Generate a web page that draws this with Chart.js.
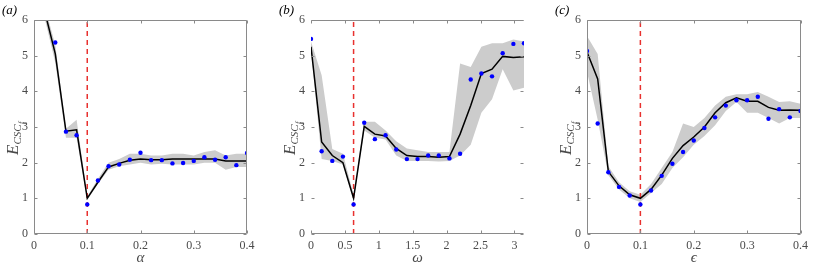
<!DOCTYPE html>
<html><head><meta charset="utf-8">
<script src="https://cdn.jsdelivr.net/npm/chart.js@4/dist/chart.umd.min.js"></script>
<style>
html,body{margin:0;padding:0;background:#fff;}
#wrap{position:relative;width:830px;height:277px;overflow:hidden;}
canvas{position:absolute;top:0;}
</style></head><body>
<div id="wrap">
<canvas id="ca" width="260" height="277" style="left:0px;width:260px;height:277px"></canvas>
<canvas id="cb" width="260" height="277" style="left:277px;width:260px;height:277px"></canvas>
<canvas id="cc" width="260" height="277" style="left:553px;width:260px;height:277px"></canvas>
</div>
<script>
// ---------- data ----------
const alphaX = [0,0.02,0.04,0.06,0.08,0.10,0.12,0.14,0.16,0.18,0.20,0.22,0.24,0.26,0.28,0.30,0.32,0.34,0.36,0.38,0.40];
const alphaMean = [7.4,6.25,5.05,2.88,2.92,1.00,1.45,1.88,1.98,2.07,2.10,2.08,2.08,2.10,2.10,2.10,2.10,2.10,2.05,2.05,2.05];
const alphaLow  = [7.2,6.05,4.80,2.70,2.70,0.95,1.40,1.80,1.90,1.95,2.00,1.95,1.97,1.95,1.95,1.95,2.00,2.00,1.80,1.88,1.88];
const alphaHigh = [7.6,6.40,5.30,2.95,3.20,1.05,1.55,2.00,2.10,2.25,2.25,2.20,2.20,2.25,2.25,2.20,2.30,2.35,2.20,2.25,2.25];
const alphaPts  = [null,null,5.37,2.87,2.77,0.83,1.50,1.90,1.95,2.08,2.28,2.07,2.07,1.98,1.99,2.05,2.15,2.08,2.15,1.93,2.27];

const omegaX = [0,0.157,0.314,0.471,0.628,0.785,0.942,1.100,1.257,1.414,1.571,1.728,1.885,2.042,2.199,2.356,2.513,2.670,2.827,2.985,3.142];
const omegaMean = [5.25,2.58,2.20,2.00,1.00,3.02,2.80,2.75,2.40,2.20,2.17,2.17,2.15,2.17,2.80,3.60,4.50,4.62,4.98,4.95,4.97];
const omegaLow  = [5.15,2.10,2.05,1.95,0.95,2.90,2.70,2.65,2.20,2.05,2.05,2.05,2.03,2.05,2.20,2.50,3.40,3.78,4.62,4.02,4.10];
const omegaHigh = [5.40,4.45,2.38,2.25,1.10,3.15,3.15,2.90,2.60,2.40,2.35,2.30,2.30,2.30,4.78,4.68,5.25,5.35,5.35,5.45,5.40];
const omegaPts  = [5.47,2.32,2.05,2.17,0.83,3.12,2.66,2.77,2.37,2.10,2.10,2.20,2.20,2.12,2.25,4.33,4.50,4.42,5.07,5.33,5.35];

const epsX = [0,0.02,0.04,0.06,0.08,0.10,0.12,0.14,0.16,0.18,0.20,0.22,0.24,0.26,0.28,0.30,0.32,0.34,0.36,0.38,0.40];
const epsMean = [5.10,4.35,1.75,1.35,1.10,1.00,1.25,1.65,2.12,2.48,2.72,3.00,3.40,3.68,3.82,3.72,3.72,3.55,3.47,3.48,3.47];
const epsLow  = [4.55,3.20,1.65,1.25,1.00,0.90,1.15,1.40,1.85,2.15,2.50,2.75,3.05,3.45,3.70,3.40,3.40,3.25,3.10,3.25,3.25];
const epsHigh = [5.55,5.05,1.90,1.45,1.20,1.10,1.40,1.85,2.30,3.10,3.00,3.25,3.60,3.85,3.92,3.92,3.98,3.85,3.70,3.72,3.65];
const epsPts  = [5.13,3.10,1.73,1.32,1.08,0.83,1.22,1.63,1.97,2.30,2.62,2.97,3.27,3.60,3.75,3.75,3.85,3.23,3.50,3.27,3.45];

const xTicksA = [0,0.1,0.2,0.3,0.4];
const xTicksB = [0,0.5,1,1.5,2,2.5,3];
const xTicksC = [0,0.1,0.2,0.3,0.4];
const yTicks  = [0,1,2,3,4,5,6];

const optAlpha = 0.1, optOmega = 0.628, optEps = 0.1;

// ---------- helpers ----------
const AX = '#8a8a8a';
const TXT = '#4a4a4a';
const SERIF = "'Liberation Serif', 'DejaVu Serif', serif";

function pairs(xs, ys){ return xs.map((x,i)=>({x:x, y:ys[i]})); }

function makeChart(id, cfg){
  const xs = cfg.x;
  const datasets = [
    {data:pairs(xs,cfg.low), order:5, borderWidth:0, pointRadius:0, fill:false, backgroundColor:'rgba(0,0,0,0)', borderColor:'rgba(0,0,0,0)'},
    {data:pairs(xs,cfg.high), order:4, borderWidth:0, pointRadius:0, fill:'-1', backgroundColor:'#cccccc', borderColor:'rgba(0,0,0,0)'},
    {data:[{x:cfg.opt,y:0},{x:cfg.opt,y:6}], order:3, borderWidth:1.5, pointRadius:0, borderColor:'#e8312f', borderDash:[5,4], fill:false},
    {data:pairs(xs,cfg.mean), order:2, borderWidth:1.5, pointRadius:0, fill:false, borderColor:'#000000'},
    {data:pairs(xs,cfg.pts), order:1, showLine:false, pointRadius:2.2, pointStyle:'circle', backgroundColor:'#0000ff', borderColor:'#0000ff', borderWidth:0}
  ];
  const extra = {
    id:'extra_'+id,
    afterDraw(chart){
      const c = chart.ctx, a = chart.chartArea;
      const sx = chart.scales.x, sy = chart.scales.y;
      c.save();
      c.strokeStyle = AX; c.lineWidth = 1;
      const L = Math.round(a.left)+0.5, R = Math.round(a.right)-0.5, T = Math.round(a.top)+0.5, B = Math.round(a.bottom)-0.5;
      c.beginPath();
      c.moveTo(L,T); c.lineTo(R,T);
      c.moveTo(L,B); c.lineTo(R,B);
      if(cfg.sides){ c.moveTo(L,T); c.lineTo(L,B); c.moveTo(R,T); c.lineTo(R,B); }
      c.stroke();
      // inward ticks
      c.beginPath();
      const tl = 3;
      cfg.xt.forEach(v=>{
        const p = Math.round(sx.getPixelForValue(v))+0.5;
        c.moveTo(p,B); c.lineTo(p,B-tl);
        c.moveTo(p,T); c.lineTo(p,T+tl);
      });
      yTicks.forEach(v=>{
        const p = Math.round(sy.getPixelForValue(v))+0.5;
        c.moveTo(L,p); c.lineTo(L+tl,p);
        c.moveTo(R,p); c.lineTo(R-tl,p);
      });
      c.stroke();
      // panel label
      c.fillStyle = '#000';
      c.font = 'italic 13px '+SERIF;
      c.textAlign='left'; c.textBaseline='alphabetic';
      c.fillText(cfg.label, a.left-32, 14);
      // x title
      c.fillStyle = TXT;
      c.font = 'italic 15px '+SERIF;
      c.textAlign='center';
      c.fillText(cfg.xtitle, (a.left+a.right)/2, 262);
      // y title  E_{CSC_f}
      c.save();
      c.translate(a.left-16, 155);
      c.rotate(-Math.PI/2);
      c.textAlign='left';
      c.font = 'italic 17px '+SERIF;
      c.fillText('E', 0, 0);
      let w = c.measureText('E').width;
      c.font = 'italic 11px '+SERIF;
      c.fillText('CSC', w, 3);
      let w2 = c.measureText('CSC').width;
      c.font = 'italic 8px '+SERIF;
      c.fillText('f', w+w2+0.5, 5.5);
      c.restore();
      c.restore();
    }
  };
  return new Chart(document.getElementById(id), {
    type:'line',
    data:{datasets:datasets},
    options:{
      responsive:false, animation:false, maintainAspectRatio:false,
      layout:{padding:{top:20, right:cfg.padR, left:0, bottom:0}},
      plugins:{legend:{display:false}, tooltip:{enabled:false}, title:{display:false}},
      elements:{line:{tension:0}},
      scales:{
        x:{type:'linear', min:cfg.xmin, max:cfg.xmax,
           grid:{display:false, drawTicks:false, tickLength:0}, border:{display:false},
           afterBuildTicks(s){ s.ticks = cfg.xt.map(v=>({value:v})); },
           afterFit(s){ s.height = 43; },
           ticks:{color:TXT, font:{family:SERIF, size:12}, padding:5, maxRotation:0, autoSkip:false,
                  callback:(v)=>String(v)}},
        y:{type:'linear', min:0, max:6,
           grid:{display:false, drawTicks:false, tickLength:0}, border:{display:false},
           afterBuildTicks(s){ s.ticks = yTicks.map(v=>({value:v})); },
           afterFit(s){ s.width = 34; },
           ticks:{color:TXT, font:{family:SERIF, size:12}, padding:6, callback:(v)=>String(v)}}
      }
    },
    plugins:[extra]
  });
}

makeChart('ca',{x:alphaX, mean:alphaMean, low:alphaLow, high:alphaHigh, pts:alphaPts, opt:optAlpha,
  xmin:0, xmax:0.4, xt:xTicksA, padR:13, label:'(a)', xtitle:'α', sides:true});
makeChart('cb',{x:omegaX, mean:omegaMean, low:omegaLow, high:omegaHigh, pts:omegaPts, opt:optOmega,
  xmin:0, xmax:Math.PI, xt:xTicksB, padR:13, label:'(b)', xtitle:'ω', sides:false});
makeChart('cc',{x:epsX, mean:epsMean, low:epsLow, high:epsHigh, pts:epsPts, opt:optEps,
  xmin:0, xmax:0.4, xt:xTicksC, padR:11, label:'(c)', xtitle:'ϵ', sides:true});
</script>
</body></html>
